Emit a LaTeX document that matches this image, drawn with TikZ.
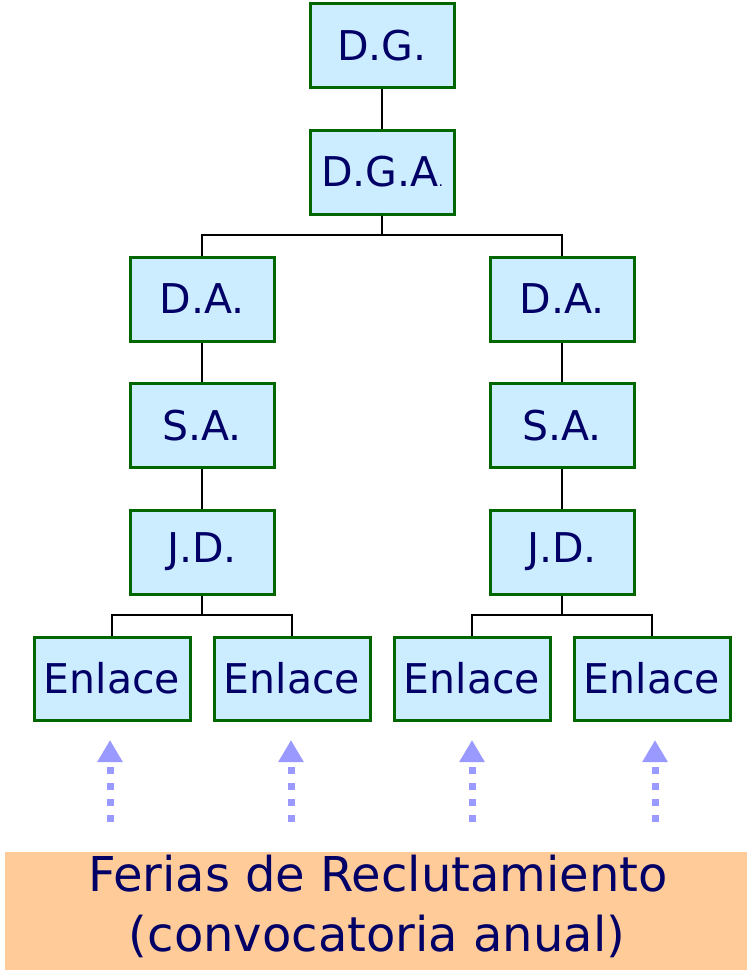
\documentclass[tikz,border=0pt]{standalone}
\usepackage{fontspec}
\setmainfont{DejaVu Sans}
\usetikzlibrary{arrows.meta}
\definecolor{boxfill}{HTML}{CCECFF}
\definecolor{boxline}{HTML}{006600}
\definecolor{navy}{HTML}{000066}
\definecolor{arrowc}{HTML}{9999FF}
\definecolor{peach}{HTML}{FFCC99}
\begin{document}
\begin{tikzpicture}[x=1pt,y=-1pt,
  orgbox/.style={draw=boxline,fill=boxfill,line width=3pt,minimum width=144pt,minimum height=84pt,inner sep=0pt,text=navy,font=\fontsize{41}{48}\selectfont},
  enlbox/.style={orgbox,minimum width=156pt,minimum height=83pt},
  link/.style={draw=black,line width=2.5pt},
  feed/.style={draw=arrowc,line width=7pt,dash pattern=on 7pt off 9pt,-{Triangle[length=22pt,width=24pt]}}]
\useasboundingbox (0,0) rectangle (747,970);
\node[orgbox] (dg) at (382,45.5) {D.G.};
\node[orgbox] (dga) at (382,172) {D.G.A{\fontsize{14}{14}\selectfont .}};
\node[orgbox] (da1) at (202,299) {D.A.};
\node[orgbox] (sa1) at (202,425.5) {S.A.};
\node[orgbox] (jd1) at (202,552) {J.D.};
\node[orgbox] (da2) at (562,299) {D.A.};
\node[orgbox] (sa2) at (562,425.5) {S.A.};
\node[orgbox] (jd2) at (562,552) {J.D.};
\node[enlbox] (e1) at (112,678.5) {Enlace};
\node[enlbox] (e2) at (292,678.5) {Enlace};
\node[enlbox] (e3) at (472,678.5) {Enlace};
\node[enlbox] (e4) at (652,678.5) {Enlace};
\path[link] (dg) -- (dga);
\path[link] (da1) -- (sa1);
\path[link] (sa1) -- (jd1);
\path[link] (da2) -- (sa2);
\path[link] (sa2) -- (jd2);
\path[link] (dga.south) |- (202,235) -| (da1.north);
\path[link] (dga.south) |- (562,235) -| (da2.north);
\path[link] (jd1.south) |- (112,615) -| (e1.north);
\path[link] (jd1.south) |- (292,615) -| (e2.north);
\path[link] (jd2.south) |- (472,615) -| (e3.north);
\path[link] (jd2.south) |- (652,615) -| (e4.north);
\node[fill=peach,minimum width=742pt,minimum height=118pt,inner sep=0pt,anchor=north west] (ferias) at (5,852) {};
\node[text=navy,font=\fontsize{48}{60}\selectfont,align=center,anchor=base] (t1) at (378,891) {Ferias de Reclutamiento};
\node[text=navy,font=\fontsize{48}{60}\selectfont,align=center,anchor=base] (t2) at (377,951) {(convocatoria anual)};
\foreach \i/\x in {1/110,2/291,3/472,4/655}{
  \coordinate (s\i) at (\x,822);
  \coordinate (h\i) at (\x,740);
  \path[feed] (s\i) -- (h\i);
}
\end{tikzpicture}
\end{document}
